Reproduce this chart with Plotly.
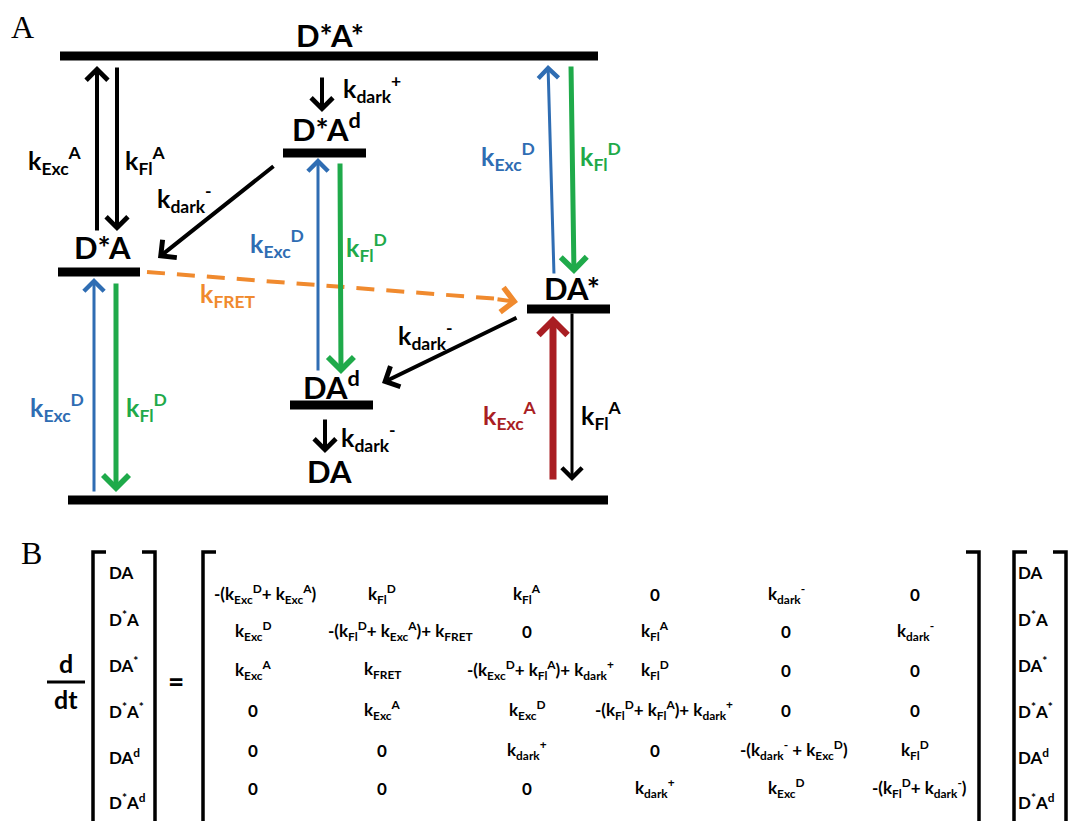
import plotly.graph_objects as go

W, H = 1069, 821
FONT = "Lato"

BLUE = "#2F6DB3"
GREEN = "#1FAA4A"
ORANGE = "#F08A2E"
RED = "#A91E23"
BLACK = "#000000"


def k(sub, sup=""):
    s = "k<sub>%s</sub>" % sub
    if sup:
        s += "<sup>%s</sup>" % sup
    return s


# ---------------- text content ----------------
PANEL_LABELS = ["A", "B"]

STATE_LABELS = ["D*A*", "D*A<sup>d</sup>", "D*A", "DA*", "DA<sup>d</sup>", "DA"]

RATE_LABELS = [k("Exc", "A"), k("Fl", "A"), k("dark", "+"), k("dark", "-"),
               k("Exc", "D"), k("Fl", "D"), k("Exc", "D"), k("Fl", "D"),
               k("FRET"), k("Exc", "D"), k("Fl", "D"), k("dark", "-"),
               k("dark", "-"), k("Exc", "A"), k("Fl", "A")]
RATE_COLORS = [BLACK, BLACK, BLACK, BLACK, BLUE, GREEN, BLUE, GREEN,
               ORANGE, BLUE, GREEN, BLACK, BLACK, RED, BLACK]

VECTOR_LABELS = ["DA", "D<sup>*</sup>A", "DA<sup>*</sup>", "D<sup>*</sup>A<sup>*</sup>",
                 "DA<sup>d</sup>", "D<sup>*</sup>A<sup>d</sup>"]

MATRIX = [
    ["-(" + k("Exc", "D") + "+ " + k("Exc", "A") + ")", k("Fl", "D"), k("Fl", "A"), "0", k("dark", "-"), "0"],
    [k("Exc", "D"), "-(" + k("Fl", "D") + "+ " + k("Exc", "A") + ")+ " + k("FRET"), "0", k("Fl", "A"), "0", k("dark", "-")],
    [k("Exc", "A"), k("FRET"), "-(" + k("Exc", "D") + "+ " + k("Fl", "A") + ")+ " + k("dark", "+"), k("Fl", "D"), "0", "0"],
    ["0", k("Exc", "A"), k("Exc", "D"), "-(" + k("Fl", "D") + "+ " + k("Fl", "A") + ")+ " + k("dark", "+"), "0", "0"],
    ["0", "0", k("dark", "+"), "0", "-(" + k("dark", "-") + " + " + k("Exc", "D") + ")", k("Fl", "D")],
    ["0", "0", "0", k("dark", "+"), k("Exc", "D"), "-(" + k("Fl", "D") + "+ " + k("dark", "-") + ")"],
]

# ---------------- geometry (pixel layout) ----------------
PANEL_XY = [(22, 27), (31, 553)]

LEVEL_X0 = [60, 283, 58, 527, 290, 68]
LEVEL_X1 = [598, 366, 140, 610, 373, 608]
LEVEL_Y = [56, 153, 272, 309, 405, 500]

STATE_XY = [(330, 35), (326, 127), (102, 247), (572, 288), (331, 385), (329, 471)]

RATE_XY = [(55, 160), (145, 160), (372, 88), (184, 198), (277, 243), (366, 247),
           (508, 156), (600, 156), (228, 295), (57, 407), (146, 407), (425, 335),
           (368, 437), (510, 415), (601, 415)]

# arrows: tail x, tail y, head x, head y, colour, width, head size
ARROWS = [
    (97, 232, 97, 66, BLACK, 4, 1.05),
    (117, 66, 117, 231, BLACK, 4, 1.05),
    (322, 76, 322, 112, BLACK, 4, 1.05),
    (275, 165, 158, 258, BLACK, 4, 1.1),
    (318, 372, 318, 158, BLUE, 3, 1.3),
    (340, 162, 341, 374, GREEN, 5, 1.0),
    (554, 275, 548, 65, BLUE, 3, 1.3),
    (571, 65, 574, 274, GREEN, 5, 1.0),
    (94, 493, 94, 278, BLUE, 3, 1.3),
    (116, 282, 116, 492, GREEN, 5, 1.0),
    (518, 317, 382, 383, BLACK, 4, 1.1),
    (325, 418, 325, 453, BLACK, 4, 1.05),
    (553, 481, 553, 316, RED, 7, 0.8),
    (572, 312, 572, 481, BLACK, 3, 1.3),
]
FRET_LINE = (147, 272, 500, 299)
FRET_HEAD = (518, 302)

FRAC_XY = [(66, 663), (66, 699)]
FRAC_LINE = (47, 85, 682)
EQ_XY = (176, 681)

VEC_L_X = 107
VEC_R_X = 1016
VEC_Y = [572, 618, 664, 710, 756, 801]
COL_X = [253, 382, 527, 655, 786, 915]
DIAG_X = [265, 400, 540, 664, 794, 919]
ROW_Y = [594, 631, 670, 710, 750, 788]

# brackets: x of vertical, direction of top tick (+1 right, -1 left)
BRACKETS = [(93, 1), (155, -1), (203, 1), (979, -1), (1014, 1), (1066, -1)]
BRACKET_TOP = 552
BRACKET_TICK = 13

fig = go.Figure()
fig.add_trace(go.Scatter(x=[0, W], y=[0, H], mode="markers",
                         marker=dict(opacity=0), hoverinfo="skip", showlegend=False))

shapes = []
ann = []

# energy levels
for x0, x1, y in zip(LEVEL_X0, LEVEL_X1, LEVEL_Y):
    shapes.append(dict(type="line", xref="x", yref="y", x0=x0, x1=x1, y0=y, y1=y,
                       line=dict(color="black", width=9)))

# arrows
for tx, ty, hx, hy, col, w, hs in ARROWS:
    ann.append(dict(x=hx, y=hy, ax=tx, ay=ty, xref="x", yref="y", axref="x", ayref="y",
                    text="", showarrow=True, arrowhead=4, arrowsize=hs, arrowwidth=w,
                    arrowcolor=col, standoff=0, startstandoff=0))

# FRET dashed arrow
fx0, fy0, fx1, fy1 = FRET_LINE
shapes.append(dict(type="line", xref="x", yref="y", x0=fx0, y0=fy0, x1=fx1, y1=fy1,
                   line=dict(color=ORANGE, width=4, dash="18px,12px")))
ann.append(dict(x=FRET_HEAD[0], y=FRET_HEAD[1], ax=fx1 - 4, ay=fy1, xref="x", yref="y",
                axref="x", ayref="y", text="", showarrow=True, arrowhead=4, arrowsize=1.2,
                arrowwidth=4, arrowcolor=ORANGE, standoff=0))

# panel labels
for t, (x, y) in zip(PANEL_LABELS, PANEL_XY):
    ann.append(dict(x=x, y=y, xref="x", yref="y", text=t, showarrow=False,
                    font=dict(family="Liberation Serif", size=32, color="black")))

# state labels
for t, (x, y) in zip(STATE_LABELS, STATE_XY):
    ann.append(dict(x=x, y=y, xref="x", yref="y", text=t, showarrow=False,
                    font=dict(family=FONT, size=31, color="black", weight="bold")))

# rate labels
for t, c, (x, y) in zip(RATE_LABELS, RATE_COLORS, RATE_XY):
    ann.append(dict(x=x, y=y, xref="x", yref="y", text=t, showarrow=False,
                    font=dict(family=FONT, size=25, color=c, weight="bold")))

# d/dt and =
for t, (x, y) in zip(["d", "dt"], FRAC_XY):
    ann.append(dict(x=x, y=y, xref="x", yref="y", text=t, showarrow=False,
                    font=dict(family=FONT, size=25, color="black", weight="bold")))
shapes.append(dict(type="line", xref="x", yref="y", x0=FRAC_LINE[0], x1=FRAC_LINE[1],
                   y0=FRAC_LINE[2], y1=FRAC_LINE[2], line=dict(color="black", width=3)))
ann.append(dict(x=EQ_XY[0], y=EQ_XY[1], xref="x", yref="y", text="=", showarrow=False,
                font=dict(family=FONT, size=28, color="black", weight="bold")))

# brackets
for bx, d in BRACKETS:
    shapes.append(dict(type="path", xref="x", yref="y",
                       path="M %d %d L %d %d L %d %d" % (bx + d * BRACKET_TICK, BRACKET_TOP,
                                                      bx, BRACKET_TOP, bx, H + 10),
                       line=dict(color="black", width=3.5)))

# vectors
for t, y in zip(VECTOR_LABELS, VEC_Y):
    for vx in (VEC_L_X, VEC_R_X):
        ann.append(dict(x=vx, y=y, xref="x", yref="y", text=t, showarrow=False,
                        xanchor="left", font=dict(family=FONT, size=17, color="black", weight="bold")))

# matrix
for i, row in enumerate(MATRIX):
    for j, t in enumerate(row):
        x = DIAG_X[j] if i == j else COL_X[j]
        ann.append(dict(x=x, y=ROW_Y[i], xref="x", yref="y", text=t, showarrow=False,
                        font=dict(family=FONT, size=17, color="black", weight="bold")))

fig.update_layout(
    width=W, height=H, autosize=False,
    margin=dict(l=0, r=0, t=0, b=0, pad=0),
    paper_bgcolor="white", plot_bgcolor="white",
    xaxis=dict(range=[0, W], visible=False, fixedrange=True),
    yaxis=dict(range=[H, 0], visible=False, fixedrange=True),
    shapes=shapes, annotations=ann, showlegend=False,
)

fig.write_html("out.html", config={"displayModeBar": False},
               post_script="document.body.style.margin='0';document.body.style.overflow='hidden';")
